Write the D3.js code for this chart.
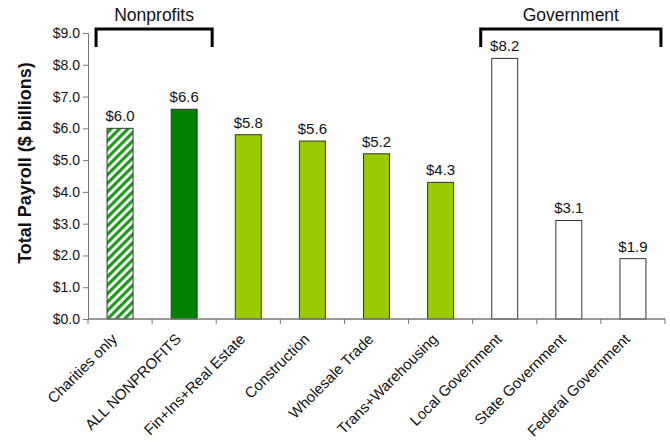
<!DOCTYPE html>
<head>
  <meta charset="utf-8">
  <script src="https://d3js.org/d3.v7.min.js"></script>
  <style>
    body { margin: 0; background: #fff; }
    svg { display: block; font-family: "Liberation Sans", Arial, sans-serif; }
  </style>
</head>
<body>
  <svg width="670" height="447"></svg>
  <script>
    // data
    var categories = ['Charities only', 'ALL NONPROFITS', 'Fin+Ins+Real Estate', 'Construction',
      'Wholesale Trade', 'Trans+Warehousing', 'Local Government', 'State Government', 'Federal Government'];
    var payroll = [6.0, 6.6, 5.8, 5.6, 5.2, 4.3, 8.2, 3.1, 1.9];
    var kinds = ['hatch', 'dark', 'light', 'light', 'light', 'light', 'gov', 'gov', 'gov'];
    var yTicks = [0, 1, 2, 3, 4, 5, 6, 7, 8, 9];
    var groups = [
      {label: 'Nonprofits', first: 'Charities only', last: 'ALL NONPROFITS'},
      {label: 'Government', first: 'Local Government', last: 'Federal Government'}
    ];

    var margin = {top: 33, right: 5, bottom: 128, left: 88};
    var width = 670, height = 447;

    var svg = d3.select('svg');

    var x = d3.scaleBand()
      .domain(categories)
      .range([margin.left, width - margin.right])
      .paddingInner(0.595)
      .paddingOuter(0.2975);

    var y = d3.scaleLinear()
      .domain([0, 9])
      .range([height - margin.bottom, margin.top]);

    // stripe pattern for "Charities only"
    var pat = svg.append('defs').append('pattern')
      .attr('id', 'hatch')
      .attr('patternUnits', 'userSpaceOnUse')
      .attr('width', 6).attr('height', 6)
      .attr('patternTransform', 'rotate(45)');
    pat.append('rect').attr('width', 6).attr('height', 6).attr('fill', '#fff');
    pat.append('rect').attr('width', 3.2).attr('height', 6).attr('fill', '#1e9a1e');

    var fills = {hatch: 'url(#hatch)', dark: '#008000', light: '#99cc00', gov: '#fff'};

    // y axis
    var yAxis = svg.append('g')
      .attr('transform', 'translate(' + margin.left + ',0)')
      .call(d3.axisLeft(y).tickValues(yTicks).tickSizeOuter(0).tickSize(5)
        .tickFormat(d => '$' + d.toFixed(1)));
    yAxis.select('.domain').attr('stroke', '#777');
    yAxis.selectAll('.tick line').attr('stroke', '#777');
    yAxis.selectAll('.tick text')
      .attr('font-size', 14).attr('fill', '#111').attr('x', -8)
      .attr('font-family', '"Liberation Sans", Arial, sans-serif');

    // bars
    svg.append('g').selectAll('rect')
      .data(categories)
      .join('rect')
      .attr('x', d => x(d))
      .attr('width', x.bandwidth())
      .attr('y', (d, i) => y(payroll[i]))
      .attr('height', (d, i) => y(0) - y(payroll[i]))
      .attr('fill', (d, i) => fills[kinds[i]])
      .attr('stroke', '#333')
      .attr('stroke-width', 1);

    // value labels
    svg.append('g').selectAll('text')
      .data(categories)
      .join('text')
      .attr('x', d => x(d) + x.bandwidth() / 2)
      .attr('y', (d, i) => y(payroll[i]) - 7)
      .attr('text-anchor', 'middle')
      .attr('font-size', 15)
      .attr('fill', '#111')
      .text((d, i) => '$' + payroll[i].toFixed(1));

    // x axis line and ticks at band edges
    var step = x.step();
    var xg = svg.append('g');
    xg.append('line')
      .attr('x1', margin.left).attr('x2', width - margin.right)
      .attr('y1', y(0)).attr('y2', y(0))
      .attr('stroke', '#777').attr('stroke-width', 1.5);
    xg.selectAll('.xt')
      .data(d3.range(categories.length + 1))
      .join('line')
      .attr('x1', i => margin.left + i * step).attr('x2', i => margin.left + i * step)
      .attr('y1', y(0)).attr('y2', y(0) + 5)
      .attr('stroke', '#777');

    // category labels, rotated
    xg.selectAll('text')
      .data(categories)
      .join('text')
      .attr('transform', d => 'translate(' + (x(d) + x.bandwidth() / 2 - 2) + ',' + (y(0) + 21) + ') rotate(-45)')
      .attr('text-anchor', 'end')
      .attr('font-size', 15)
      .attr('fill', '#111')
      .text(d => d);

    // group brackets
    groups.forEach(g => {
      var x1 = x(g.first) + x.bandwidth() / 2 - 24;
      var x2 = x(g.last) + x.bandwidth() / 2 + 28;
      svg.append('path')
        .attr('d', 'M' + x1 + ',' + 47 + 'V' + 29 + 'H' + x2 + 'V' + 47)
        .attr('fill', 'none')
        .attr('stroke', '#000')
        .attr('stroke-width', 3);
      svg.append('text')
        .attr('x', (x1 + x2) / 2)
        .attr('y', 21)
        .attr('text-anchor', 'middle')
        .attr('font-size', 17.5)
        .attr('fill', '#111')
        .text(g.label);
    });

    // y title
    svg.append('text')
      .attr('transform', 'translate(31,163) rotate(-90)')
      .attr('text-anchor', 'middle')
      .attr('font-size', 18)
      .attr('font-weight', 'bold')
      .attr('fill', '#111')
      .text('Total Payroll ($ billions)');
  </script>
</body>
